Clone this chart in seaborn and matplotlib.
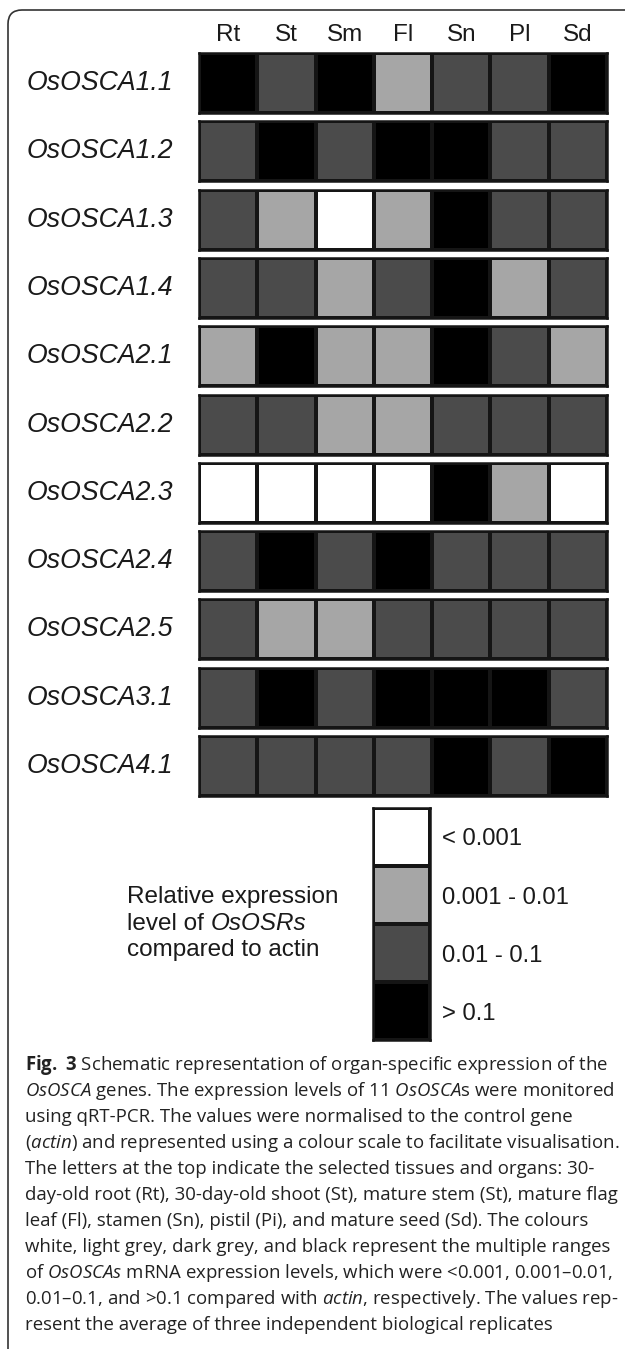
import matplotlib
matplotlib.use("Agg")
import matplotlib.pyplot as plt
import numpy as np
import pandas as pd
import seaborn as sns
from matplotlib.colors import ListedColormap
from matplotlib.patches import FancyBboxPatch
from matplotlib.transforms import IdentityTransform

# organs / tissues along the top
tissues = ["Rt", "St", "Sm", "Fl", "Sn", "Pl", "Sd"]

genes = ["OsOSCA1.1", "OsOSCA1.2", "OsOSCA1.3", "OsOSCA1.4", "OsOSCA2.1", "OsOSCA2.2",
         "OsOSCA2.3", "OsOSCA2.4", "OsOSCA2.5", "OsOSCA3.1", "OsOSCA4.1"]

# expression class per gene and tissue: 0 = <0.001, 1 = 0.001-0.01, 2 = 0.01-0.1, 3 = >0.1
levels = [
    [3, 2, 3, 1, 2, 2, 3],
    [2, 3, 2, 3, 3, 2, 2],
    [2, 1, 0, 1, 3, 2, 2],
    [2, 2, 1, 2, 3, 1, 2],
    [1, 3, 1, 1, 3, 2, 1],
    [2, 2, 1, 1, 2, 2, 2],
    [0, 0, 0, 0, 3, 1, 0],
    [2, 3, 2, 3, 2, 2, 2],
    [2, 1, 1, 2, 2, 2, 2],
    [2, 3, 2, 3, 3, 3, 2],
    [2, 2, 2, 2, 3, 2, 3],
]

level_labels = ["< 0.001", "0.001 - 0.01", "0.01 - 0.1", "> 0.1"]
level_colors = ["#ffffff", "#a6a6a6", "#4b4b4b", "#000000"]

caption_lines = [
    r"$\mathbf{Fig.\ 3}$ Schematic representation of organ-specific expression of the",
    r"$\mathit{OsOSCA}$ genes. The expression levels of 11 $\mathit{OsOSCA}$s were monitored",
    r"using qRT-PCR. The values were normalised to the control gene",
    r"($\mathit{actin}$) and represented using a colour scale to facilitate visualisation.",
    r"The letters at the top indicate the selected tissues and organs: 30-",
    r"day-old root (Rt), 30-day-old shoot (St), mature stem (St), mature flag",
    r"leaf (Fl), stamen (Sn), pistil (Pi), and mature seed (Sd). The colours",
    r"white, light grey, dark grey, and black represent the multiple ranges",
    r"of $\mathit{OsOSCAs}$ mRNA expression levels, which were <0.001, 0.001–0.01,",
    r"0.01–0.1, and >0.1 compared with $\mathit{actin}$, respectively. The values rep-",
    r"resent the average of three independent biological replicates",
]

sns.set_theme(style="white")
plt.rcParams["font.family"] = ["Liberation Sans", "DejaVu Sans"]
plt.rcParams["mathtext.fontset"] = "custom"
plt.rcParams["mathtext.rm"] = "Open Sans"
plt.rcParams["mathtext.it"] = "Open Sans:italic"
plt.rcParams["mathtext.bf"] = "Open Sans:bold"

W, H = 625, 1349
fig = plt.figure(figsize=(W / 100, H / 100), dpi=100)
fig.patch.set_facecolor("white")


def px_axes(x0, y0, w, h):
    # axes placed in pixel units, measured from the top-left corner
    return fig.add_axes([x0 / W, 1 - (y0 + h) / H, w / W, h / H])


cmap = ListedColormap(level_colors)
ink = "#1a1a1a"

# one strip per gene
for i, gene in enumerate(genes):
    ax = px_axes(199, 53 + 68.3 * i, 408, 60)
    row = pd.DataFrame([levels[i]], index=[gene], columns=tissues)
    sns.heatmap(row, ax=ax, cmap=cmap, vmin=-0.5, vmax=3.5, cbar=False,
                linewidths=1.5, linecolor="#151515",
                xticklabels=(i == 0), yticklabels=True)
    ax.set_yticklabels([gene], rotation=0, fontstyle="italic", fontsize=19.2, color=ink)
    ax.tick_params(axis="y", length=0, pad=19)
    if i == 0:
        ax.xaxis.tick_top()
        ax.set_xticklabels(tissues, rotation=0, fontsize=17.5, color=ink)
        ax.tick_params(axis="x", length=0, pad=5)
    ax.set_xlabel("")
    ax.set_ylabel("")
    for sp in ax.spines.values():
        sp.set_visible(True)
        sp.set_linewidth(1.8)
        sp.set_color("#151515")

# colour key
lax = px_axes(373, 808, 57, 232)
key = pd.DataFrame({"level": range(len(level_labels))}, index=level_labels)
sns.heatmap(key, ax=lax, cmap=cmap, vmin=-0.5, vmax=3.5, cbar=False,
            linewidths=1.5, linecolor="#151515", xticklabels=False, yticklabels=True)
lax.yaxis.tick_right()
lax.set_yticklabels(level_labels, rotation=0, fontsize=17.2, color=ink)
lax.tick_params(axis="y", length=0, pad=9)
lax.set_ylabel("")
for sp in lax.spines.values():
    sp.set_visible(True)
    sp.set_linewidth(1.8)
    sp.set_color("#151515")

tkw = dict(fontsize=17.5, color=ink, va="center", ha="left")
fig.text(127 / W, 1 - 897 / H, "Relative expression", **tkw)
t2 = fig.text(127 / W, 1 - 924 / H, "level of", **tkw)
fig.text(127 / W, 1 - 950 / H, "compared to actin", **tkw)
fig.add_artist(plt.Annotation("OsOSRs", xy=(1, 0), xycoords=t2, xytext=(4.8, 0),
                              textcoords="offset points", fontsize=17.5, color=ink,
                              fontstyle="italic", va="bottom", ha="left"))

# caption
for j, line in enumerate(caption_lines):
    fig.text(25 / W, 1 - (1070 + 26 * j) / H, line, fontsize=13.4, family="Open Sans",
             color="#222222", va="baseline", ha="left")

# rounded frame around the panel
frame = FancyBboxPatch((8, -30), 700, H - 10 + 30, boxstyle="round,pad=0,rounding_size=14",
                       transform=IdentityTransform(), facecolor="none",
                       edgecolor="#333333", linewidth=1.2)
fig.patches.append(frame)

fig.savefig("out.png", dpi=100)
